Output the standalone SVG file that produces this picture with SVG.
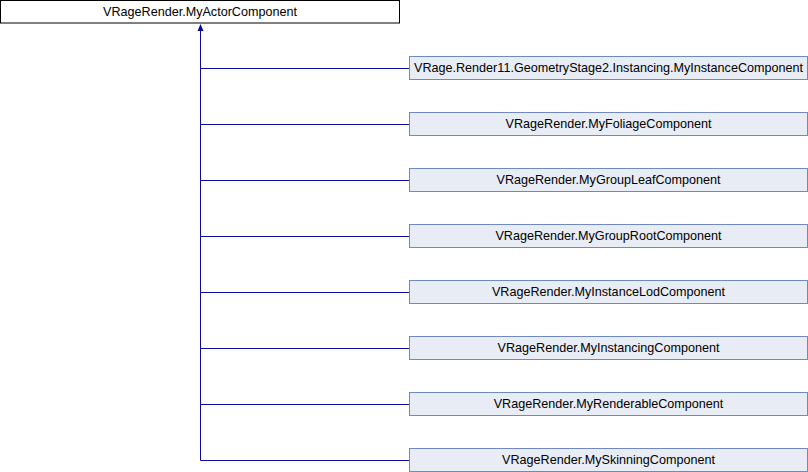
<svg xmlns="http://www.w3.org/2000/svg" width="808" height="472" viewBox="0 0 808 472">
  <style>
    .base rect { fill: #ffffff; stroke: #000000; stroke-width: 1; }
    .node rect { fill: #e8ecf5; stroke: #7088c4; stroke-width: 1; }
    text { font-family: "Liberation Sans", Arial, sans-serif; font-size: 12.6px; fill: #000000; text-anchor: middle; }
    .edge { fill: none; stroke: #0b0b9e; stroke-width: 1; }
    .head { fill: #0b0b9e; }
  </style>

  <rect width="808" height="472" fill="#ffffff"/>

  <g id="connectors">
    <polygon class="head" points="200.5,24 197.5,31 203.5,31"/>
    <path class="edge" d="M200.5,30 V460.5"/>
    <path class="edge" d="M200.5,68.5 H409"/>
    <path class="edge" d="M200.5,124.5 H409"/>
    <path class="edge" d="M200.5,180.5 H409"/>
    <path class="edge" d="M200.5,236.5 H409"/>
    <path class="edge" d="M200.5,292.5 H409"/>
    <path class="edge" d="M200.5,348.5 H409"/>
    <path class="edge" d="M200.5,404.5 H409"/>
    <path class="edge" d="M200.5,460.5 H409"/>
  </g>

  <g id="MyActorComponent" class="base">
    <rect x="0.5" y="0.5" width="399" height="22.5"/>
    <text x="200" y="15.5">VRageRender.MyActorComponent</text>
  </g>

  <g id="MyInstanceComponent" class="node">
    <rect x="409.5" y="56.5" width="398" height="23"/>
    <text x="608.5" y="71.5">VRage.Render11.GeometryStage2.Instancing.MyInstanceComponent</text>
  </g>
  <g id="MyFoliageComponent" class="node">
    <rect x="409.5" y="112.5" width="398" height="23"/>
    <text x="608.5" y="127.5">VRageRender.MyFoliageComponent</text>
  </g>
  <g id="MyGroupLeafComponent" class="node">
    <rect x="409.5" y="168.5" width="398" height="23"/>
    <text x="608.5" y="183.5">VRageRender.MyGroupLeafComponent</text>
  </g>
  <g id="MyGroupRootComponent" class="node">
    <rect x="409.5" y="224.5" width="398" height="23"/>
    <text x="608.5" y="239.5">VRageRender.MyGroupRootComponent</text>
  </g>
  <g id="MyInstanceLodComponent" class="node">
    <rect x="409.5" y="280.5" width="398" height="23"/>
    <text x="608.5" y="295.5">VRageRender.MyInstanceLodComponent</text>
  </g>
  <g id="MyInstancingComponent" class="node">
    <rect x="409.5" y="336.5" width="398" height="23"/>
    <text x="608.5" y="351.5">VRageRender.MyInstancingComponent</text>
  </g>
  <g id="MyRenderableComponent" class="node">
    <rect x="409.5" y="392.5" width="398" height="23"/>
    <text x="608.5" y="407.5">VRageRender.MyRenderableComponent</text>
  </g>
  <g id="MySkinningComponent" class="node">
    <rect x="409.5" y="448.5" width="398" height="23"/>
    <text x="608.5" y="463.5">VRageRender.MySkinningComponent</text>
  </g>
</svg>
